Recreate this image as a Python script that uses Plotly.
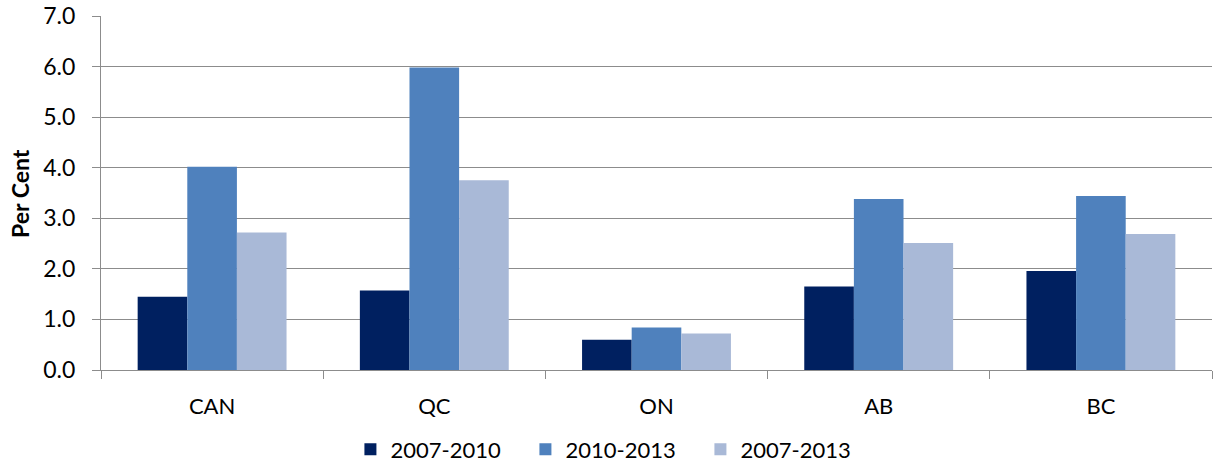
import plotly.graph_objects as go

# valores (por cento)
categorias = ["CAN", "QC", "ON", "AB", "BC"]
serie_2007_2010 = [1.45, 1.57, 0.60, 1.65, 1.96]
serie_2010_2013 = [4.02, 5.98, 0.84, 3.38, 3.44]
serie_2007_2013 = [2.72, 3.75, 0.72, 2.51, 2.69]
nomes = ["2007-2010", "2010-2013", "2007-2013"]
cores = ["#002060", "#4f81bd", "#a9b9d7"]

fonte = "Lato, 'Open Sans', sans-serif"

fig = go.Figure()
for nome, valores, cor in zip(nomes, [serie_2007_2010, serie_2010_2013, serie_2007_2013], cores):
    fig.add_trace(go.Bar(x=categorias, y=valores, name=nome, marker_color=cor,
                         marker_line_width=0))

fig.update_layout(
    width=1217, height=466,
    margin=dict(l=101, r=5, t=16, b=96, autoexpand=False),
    plot_bgcolor="white", paper_bgcolor="white",
    barmode="group", bargap=0.33, bargroupgap=0,
    font=dict(family=fonte, size=22, color="#000000"),
    showlegend=True,
    legend=dict(orientation="h", x=0.2245, xanchor="left", y=-0.165, yanchor="top",
                font=dict(size=22), itemwidth=30, traceorder="normal",
                entrywidth=130, entrywidthmode="pixels"),
    # título do eixo y como anotação, para posicionar à mão
    annotations=[dict(text="<b>Per Cent</b>", x=-0.073, y=0.5, xref="paper", yref="paper",
                      textangle=-90, showarrow=False, font=dict(size=23),
                      xanchor="center", yanchor="middle")],
)
fig.update_xaxes(
    showline=True, linecolor="#8c8c8c", linewidth=1,
    ticks="outside", tickson="boundaries", ticklen=8, tickcolor="#8c8c8c",
    showgrid=False, automargin=False, ticklabelstandoff=17,
)
fig.update_yaxes(
    range=[0, 7], dtick=1, tickformat=".1f",
    showline=True, linecolor="#8c8c8c", linewidth=1,
    ticks="outside", ticklen=8, tickcolor="#8c8c8c",
    showgrid=True, gridcolor="#8c8c8c", gridwidth=1,
    zeroline=False, automargin=False, ticklabelstandoff=12,
    tickfont=dict(size=23),
)

# tirar a margem padrão do body para a figura ocupar a janela toda
fig.write_html("out.html", config={"displayModeBar": False},
               post_script="document.body.style.margin='0';document.body.style.overflow='hidden';")
